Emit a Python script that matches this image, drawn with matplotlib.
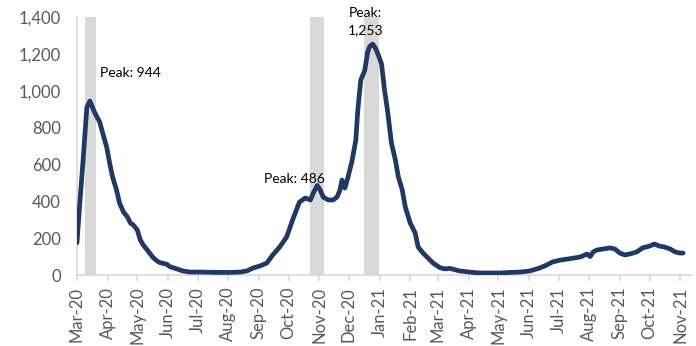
import matplotlib
matplotlib.use("Agg")
import matplotlib.pyplot as plt
import pandas as pd

plt.rcParams['font.family'] = ['Lato', 'DejaVu Sans']

dates = ["2020-03-01","2020-03-04","2020-03-07","2020-03-11","2020-03-14","2020-03-19","2020-03-24","2020-03-27",
         "2020-03-31","2020-04-03","2020-04-06","2020-04-10","2020-04-13","2020-04-17","2020-04-21","2020-04-24",
         "2020-04-27","2020-05-01","2020-05-04","2020-05-07","2020-05-11","2020-05-14","2020-05-17","2020-05-21",
         "2020-05-24","2020-05-31","2020-06-03","2020-06-10","2020-06-16","2020-06-23","2020-07-03","2020-07-13",
         "2020-07-24","2020-08-03","2020-08-13","2020-08-20","2020-08-26","2020-09-02","2020-09-09","2020-09-15",
         "2020-09-22","2020-09-29","2020-10-05","2020-10-12","2020-10-18","2020-10-23","2020-10-26","2020-10-30",
         "2020-11-02","2020-11-05","2020-11-10","2020-11-15","2020-11-19","2020-11-22","2020-11-24","2020-11-27",
         "2020-11-30","2020-12-04","2020-12-08","2020-12-10","2020-12-13","2020-12-17","2020-12-20","2020-12-22",
         "2020-12-25","2020-12-28","2020-12-31","2021-01-03","2021-01-06","2021-01-09","2021-01-13","2021-01-17",
         "2021-01-20","2021-01-24","2021-01-27","2021-02-01","2021-02-06","2021-02-09","2021-02-14","2021-02-19",
         "2021-02-24","2021-03-03","2021-03-08","2021-03-13","2021-03-23","2021-04-02","2021-04-12","2021-04-23",
         "2021-05-03","2021-05-13","2021-05-23","2021-06-02","2021-06-12","2021-06-19","2021-06-25","2021-07-02",
         "2021-07-12","2021-07-23","2021-07-30","2021-08-02","2021-08-05","2021-08-09","2021-08-15","2021-08-22",
         "2021-08-27","2021-09-01","2021-09-06","2021-09-11","2021-09-18","2021-09-24","2021-10-01","2021-10-06",
         "2021-10-11","2021-10-16","2021-10-22","2021-10-27","2021-11-01","2021-11-04"]
values = [175, 400, 610, 910, 944, 880, 830, 770,
          695, 608, 532, 461, 391, 342, 315, 282,
          271, 244, 190, 163, 136, 115, 95, 76,
          67, 58, 45, 33, 22, 16, 16, 15,
          14, 14, 16, 22, 38, 49, 65, 109,
          152, 206, 298, 396, 418, 407, 445, 486,
          461, 423, 407, 407, 423, 461, 515, 472,
          530, 615, 732, 895, 1058, 1110, 1210, 1240,
          1253, 1230, 1190, 1145, 1004, 895, 716, 624,
          532, 461, 369, 282, 228, 152, 119, 92,
          65, 40, 33, 36, 22, 16, 11, 11,
          11, 14, 16, 22, 38, 54, 71, 80,
          88, 98, 114, 100, 125, 136, 141, 147,
          141, 119, 109, 114, 125, 147, 157, 168,
          157, 152, 141, 125, 119, 119]

band_starts = ["2020-03-09", "2020-10-23", "2020-12-16"]
band_ends = ["2020-03-20", "2020-11-06", "2020-12-31"]

peak_labels = ["Peak: 944", "Peak: 486", "Peak:\n1,253"]
peak_label_dates = ["2020-03-24", "2020-10-07", "2020-12-18"]
peak_label_values = [1095, 490, 1375]

tick_months = pd.date_range("2020-03-01", "2021-11-01", freq="MS")

x = pd.to_datetime(dates)

fig = plt.figure(figsize=(6.96, 3.46), dpi=100)
ax = fig.add_axes([0.1106, 0.2052, 0.8837, 0.7457])

for s, e in zip(band_starts, band_ends):
    ax.axvspan(pd.Timestamp(s), pd.Timestamp(e), ymin=0, ymax=1, color="#d9d9d9", lw=0, zorder=1)

ax.plot(x, values, color="#1f3864", lw=3.4, solid_joinstyle="round", solid_capstyle="round", zorder=3)

ax.set_ylim(0, 1400)
ax.set_xlim(pd.Timestamp("2020-03-01"), pd.Timestamp("2021-11-13"))
ax.set_yticks(range(0, 1401, 200))
ax.set_yticklabels([f"{v:,}" for v in range(0, 1401, 200)])
ax.set_xticks(tick_months)
ax.set_xticklabels([d.strftime("%b-%y") for d in tick_months], rotation=90)

for sp in ["top", "right"]:
    ax.spines[sp].set_visible(False)
for sp in ["left", "bottom"]:
    ax.spines[sp].set_color("#d9d9d9")
    ax.spines[sp].set_linewidth(1.2)

ax.tick_params(axis="y", length=0, labelsize=12, labelcolor="#595959", pad=11.5)
ax.tick_params(axis="x", length=4.5, width=1.2, color="#d9d9d9", labelsize=12, labelcolor="#595959", pad=4)

ax.text(pd.Timestamp(peak_label_dates[0]), peak_label_values[0], peak_labels[0], fontsize=10, color="black",
        ha="left", va="center", zorder=4)
ax.text(pd.Timestamp(peak_label_dates[1]), peak_label_values[1], peak_labels[1], fontsize=10, color="black",
        ha="center", va="bottom", zorder=4)
ax.text(pd.Timestamp(peak_label_dates[2]), peak_label_values[2], peak_labels[2], fontsize=10, color="black",
        ha="center", va="center", zorder=4, linespacing=1.6)

fig.savefig("out.png", dpi=100)
